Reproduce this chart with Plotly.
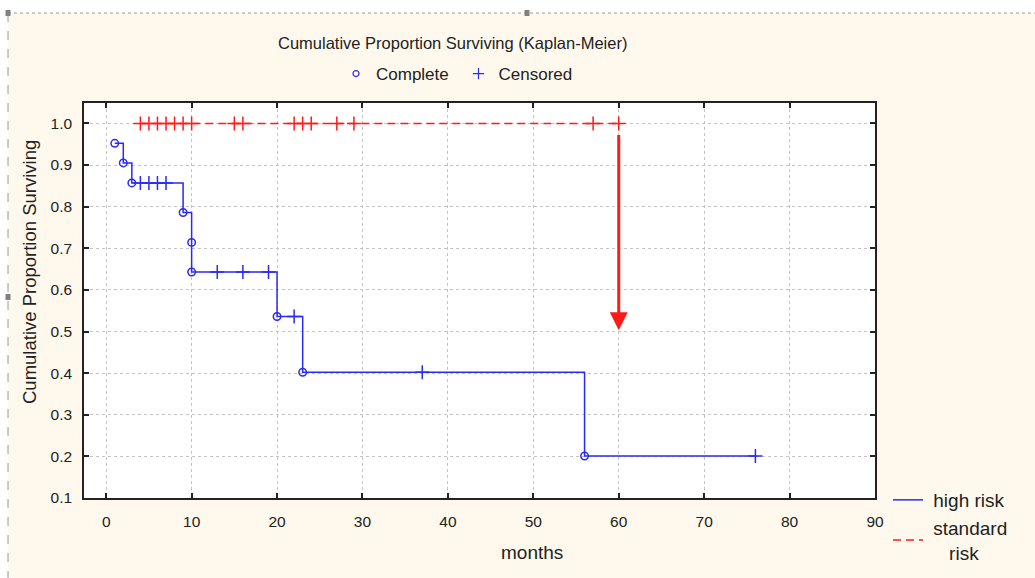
import plotly.graph_objects as go

# ---------------- data ----------------
# high risk group: step curve (time, cumulative proportion surviving)
high_times = [1, 2, 3, 9, 10, 10, 20, 23, 56, 76]
high_surv = [0.952, 0.905, 0.857, 0.786, 0.714, 0.643, 0.536, 0.402, 0.201, 0.201]
# high risk complete (event) points
high_event_t = [1, 2, 3, 9, 10, 10, 20, 23, 56]
high_event_s = [0.952, 0.905, 0.857, 0.786, 0.714, 0.643, 0.536, 0.402, 0.201]
# high risk censored points
high_cens_t = [4, 5, 6, 7, 13, 16, 19, 22, 37, 76]
high_cens_s = [0.857, 0.857, 0.857, 0.857, 0.643, 0.643, 0.643, 0.536, 0.402, 0.201]

# standard risk group (no events)
std_times = [4, 60]
std_surv = [1.0, 1.0]
std_cens_t = [4, 5, 6, 7, 8, 9, 10, 15, 16, 22, 23, 24, 27, 29, 57, 60]
std_cens_s = [1.0] * len(std_cens_t)

# arrow (annotation) at 60 months
arrow_x = 60
arrow_from = 0.976
arrow_to = 0.503

x_ticks = [0, 10, 20, 30, 40, 50, 60, 70, 80, 90]
y_ticks = [0.1, 0.2, 0.3, 0.4, 0.5, 0.6, 0.7, 0.8, 0.9, 1.0]
y_tick_text = ["0.1", "0.2", "0.3", "0.4", "0.5", "0.6", "0.7", "0.8", "0.9", "1.0"]

BLUE = "#2A2AF5"
RED = "#FF1A1A"
CREAM = "#FFF9ED"
NARROW = "Liberation Sans Narrow, Arial Narrow, Liberation Sans, Arial"
ARIAL = "Liberation Sans, Arial"
NB = "\u00a0"

fig = go.Figure()

fig.add_trace(go.Scatter(
    x=std_times, y=std_surv, mode="lines", line_shape="hv",
    line=dict(color=RED, width=1.5, dash="8px,5px"),
    name=NB + "standard<br>" + NB * 4 + "risk", legend="legend"))
fig.add_trace(go.Scatter(
    x=std_cens_t, y=std_cens_s, mode="markers",
    marker=dict(symbol="cross-thin", size=10, line=dict(color=RED, width=1.5)),
    showlegend=False, hoverinfo="skip"))

fig.add_trace(go.Scatter(
    x=high_times, y=high_surv, mode="lines", line_shape="hv",
    line=dict(color=BLUE, width=1.5),
    name=NB + "high risk", legend="legend"))
fig.add_trace(go.Scatter(
    x=high_cens_t, y=high_cens_s, mode="markers",
    marker=dict(symbol="cross-thin", size=10, line=dict(color=BLUE, width=1.5)),
    showlegend=False, hoverinfo="skip"))
fig.add_trace(go.Scatter(
    x=high_event_t, y=high_event_s, mode="markers",
    marker=dict(symbol="circle-open", size=7.5, color=BLUE, line=dict(color=BLUE, width=1.5)),
    showlegend=False, hoverinfo="skip"))

# top legend entries
fig.add_trace(go.Scatter(
    x=[None], y=[None], mode="markers", name="Complete" + NB,
    marker=dict(symbol="circle-open", size=6, color=BLUE, line=dict(color=BLUE, width=1.2)),
    legend="legend2"))
fig.add_trace(go.Scatter(
    x=[None], y=[None], mode="markers", name="Censored",
    marker=dict(symbol="cross-thin", size=8, line=dict(color=BLUE, width=1.2)),
    legend="legend2"))

W, H = 1035, 578
L, R, T, B = 84, 160, 103, 80
PW, PH = W - L - R, H - T - B


def px(xp):
    return (xp - L) / PW


def py(yp):
    return (H - B - yp) / PH


def cx(xp):
    return xp / W


def cy(yp):
    return 1 - yp / H


shapes = [
    # white strip above and left of the dashed frame
    dict(type="rect", xref="paper", yref="paper", x0=px(-5), x1=px(1040), y0=py(13), y1=py(-5),
         fillcolor="white", line=dict(width=0), layer="below"),
    dict(type="rect", xref="paper", yref="paper", x0=px(-5), x1=px(8), y0=py(585), y1=py(13),
         fillcolor="white", line=dict(width=0), layer="below"),
    # dashed frame
    dict(type="line", xref="paper", yref="paper", x0=px(8), x1=px(1040), y0=py(13), y1=py(13),
         line=dict(color="#9A9A9A", width=1, dash="dot"), layer="below"),
    dict(type="line", xref="paper", yref="paper", x0=px(8), x1=px(8), y0=py(13), y1=py(585),
         line=dict(color="#9A9A9A", width=1, dash="dash"), layer="below"),
    # handles
    dict(type="rect", xref="paper", yref="paper", x0=px(5.5), x1=px(10.5), y0=py(16), y1=py(10),
         fillcolor="#808080", line=dict(width=0), layer="below"),
    dict(type="rect", xref="paper", yref="paper", x0=px(524.5), x1=px(529.5), y0=py(16), y1=py(10),
         fillcolor="#808080", line=dict(width=0), layer="below"),
    dict(type="rect", xref="paper", yref="paper", x0=px(5.5), x1=px(10.5), y0=py(300), y1=py(294),
         fillcolor="#808080", line=dict(width=0), layer="below"),
]

annotations = [
    dict(text="Cumulative Proportion Surviving (Kaplan-Meier)", xref="paper", yref="paper",
         x=px(452), y=py(43), xanchor="center", yanchor="middle", showarrow=False,
         font=dict(family=NARROW, size=16.5, color="#222")),
    dict(text="Cumulative Proportion Surviving", xref="paper", yref="paper",
         x=px(29), y=py(272), xanchor="center", yanchor="middle", textangle=-90, showarrow=False,
         font=dict(family=ARIAL, size=18.5, color="#222")),
    dict(text="months", xref="paper", yref="paper", x=px(532), y=py(552),
         xanchor="center", yanchor="middle", showarrow=False,
         font=dict(family=ARIAL, size=19, color="#222")),
    dict(x=arrow_x, y=arrow_to, ax=arrow_x, ay=arrow_from, xref="x", yref="y",
         axref="x", ayref="y", showarrow=True, arrowhead=2, arrowsize=1.2,
         arrowwidth=3, arrowcolor=RED, text=""),
]

fig.update_layout(
    width=W, height=H,
    margin=dict(l=L, r=R, t=T, b=B, autoexpand=False),
    paper_bgcolor=CREAM, plot_bgcolor="white",
    shapes=shapes, annotations=annotations,
    legend=dict(xref="container", yref="container", x=cx(888), y=cy(481),
                xanchor="left", yanchor="top",
                bgcolor="rgba(0,0,0,0)", font=dict(family=ARIAL, size=19, color="#222"),
                traceorder="reversed", itemwidth=30, tracegroupgap=0),
    legend2=dict(xref="container", yref="container", x=cx(336), y=cy(56),
                 xanchor="left", yanchor="top", orientation="h",
                 bgcolor="rgba(0,0,0,0)", font=dict(family=NARROW, size=17, color="#222")),
    xaxis=dict(range=[-2.6, 90], tickvals=x_ticks, showgrid=True, gridcolor="#C4C4C4",
               griddash="dot", gridwidth=1, zeroline=False, showline=True, mirror="ticks",
               linecolor="#222", linewidth=1.5, ticks="inside", ticklen=5, tickwidth=1.5,
               tickcolor="#222", ticklabelstandoff=9,
               tickfont=dict(family=ARIAL, size=15.5, color="#222")),
    yaxis=dict(range=[0.1, 1.049], tickvals=y_ticks, ticktext=y_tick_text, showgrid=True,
               gridcolor="#C4C4C4", griddash="dot", gridwidth=1, zeroline=False, showline=True,
               mirror="ticks", linecolor="#222", linewidth=1.5, ticks="inside", ticklen=5,
               tickwidth=1.5, tickcolor="#222", ticklabelstandoff=7,
               tickfont=dict(family=ARIAL, size=15.5, color="#222")),
)

fig.write_html("out.html")
